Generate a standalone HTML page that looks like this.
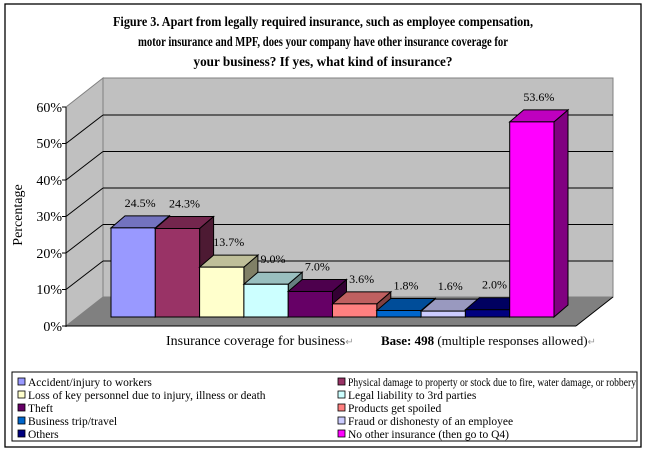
<!DOCTYPE html>
<html><head><meta charset="utf-8"><style>
body{margin:0;background:#fff;}
svg{display:block;font-family:"Liberation Serif",serif;}
</style></head><body>
<svg width="647" height="454" viewBox="0 0 647 454" xmlns="http://www.w3.org/2000/svg">
<rect x="5" y="4" width="636" height="443" fill="#fff" stroke="#000" stroke-width="1.3"/>
<g font-weight="bold" font-size="14" text-anchor="middle">
<text x="323" y="26" textLength="420" lengthAdjust="spacingAndGlyphs">Figure 3. Apart from legally required insurance, such as employee compensation,</text>
<text x="323" y="46" textLength="370" lengthAdjust="spacingAndGlyphs">motor insurance and MPF, does your company have other insurance coverage for</text>
<text x="323" y="66" textLength="259" lengthAdjust="spacingAndGlyphs">your business? If yes, what kind of insurance?</text>
</g>
<!-- walls -->
<polygon points="66,107 103,78 103,297 66,326" fill="#c0c0c0" stroke="#808080" stroke-width="1"/>
<rect x="103" y="78" width="510" height="219" fill="#c0c0c0" stroke="#808080" stroke-width="1"/>
<polygon points="66,326 103,297 613,297 576,326" fill="#808080"/>
<g stroke="#000" stroke-width="1">
<line x1="103" y1="115" x2="613" y2="115"/><line x1="103" y1="151.5" x2="613" y2="151.5"/>
<line x1="103" y1="188" x2="613" y2="188"/><line x1="103" y1="224.5" x2="613" y2="224.5"/>
<line x1="103" y1="261" x2="613" y2="261"/>
<line x1="66" y1="143.5" x2="103" y2="115"/><line x1="66" y1="180" x2="103" y2="151.5"/>
<line x1="66" y1="216.5" x2="103" y2="188"/><line x1="66" y1="253" x2="103" y2="224.5"/>
<line x1="66" y1="289.5" x2="103" y2="261"/>
<line x1="66" y1="107" x2="66" y2="327"/><line x1="66" y1="326" x2="576" y2="326"/>
<line x1="576" y1="326" x2="613" y2="297"/>
<line x1="62" y1="107" x2="66" y2="107"/><line x1="62" y1="143.5" x2="66" y2="143.5"/><line x1="62" y1="180" x2="66" y2="180"/><line x1="62" y1="216.5" x2="66" y2="216.5"/><line x1="62" y1="253" x2="66" y2="253"/><line x1="62" y1="289.5" x2="66" y2="289.5"/><line x1="62" y1="326" x2="66" y2="326"/>
</g>
<g font-size="14" text-anchor="end">
<text x="62" y="112">60%</text><text x="62" y="148">50%</text><text x="62" y="185">40%</text>
<text x="62" y="221">30%</text><text x="62" y="258">20%</text><text x="62" y="294">10%</text><text x="62" y="331">0%</text>
</g>
<text transform="translate(22,215) rotate(-90)" font-size="14" text-anchor="middle">Percentage</text>
<g id="bars" stroke="#000" stroke-width="1"></g>
<g id="lbl" font-size="12" text-anchor="middle"></g>
<text x="166" y="345" font-size="14">Insurance coverage for business<tspan fill="#999" font-size="10">↵</tspan></text>
<text x="381" y="345" font-size="13"><tspan font-weight="bold">Base: 498</tspan> (multiple responses allowed)<tspan fill="#999" font-size="10">↵</tspan></text>
<rect x="12" y="372" width="625" height="69" fill="#fff" stroke="#000" stroke-width="1"/>
<g font-size="11.5" stroke="none">
<g id="leg"></g>
</g>
<script>
var vals=[24.5,24.3,13.7,9.0,7.0,3.6,1.8,1.6,2.0,53.6];
var cols=[[153,153,255],[153,51,102],[255,255,204],[204,255,255],[102,0,102],[255,128,128],[0,102,204],[204,204,255],[0,0,128],[255,0,255]];
var names=["Accident/injury to workers","Physical damage to property or stock due to fire, water damage, or robbery","Loss of key personnel due to injury, illness or death","Legal liability to 3rd parties","Theft","Products get spoiled","Business trip/travel","Fraud or dishonesty of an employee","Others","No other insurance (then go to Q4)"];
function c(a,f){return "rgb("+Math.round(a[0]*f)+","+Math.round(a[1]*f)+","+Math.round(a[2]*f)+")";}
var g=document.getElementById("bars"),L=document.getElementById("lbl"),NS="http://www.w3.org/2000/svg";
function poly(p,fill,par){var e=document.createElementNS(NS,"polygon");e.setAttribute("points",p);e.setAttribute("fill",fill);par.appendChild(e);}
var w=44.3,dx=14,dy=12,base=317;
for(var i=0;i<10;i++){var x=111+i*w,h=vals[i]*3.64,t=base-h,x2=x+w;
poly(x2+","+t+" "+(x2+dx)+","+(t-dy)+" "+(x2+dx)+","+(base-dy)+" "+x2+","+base,c(cols[i],0.5),g);
poly(x+","+t+" "+(x+dx)+","+(t-dy)+" "+(x2+dx)+","+(t-dy)+" "+x2+","+t,c(cols[i],0.75),g);
poly(x+","+t+" "+x2+","+t+" "+x2+","+base+" "+x+","+base,c(cols[i],1),g);
var tx=document.createElementNS(NS,"text");tx.setAttribute("x",x+w/2+dx/2);tx.setAttribute("y",t-dy-9);tx.textContent=vals[i].toFixed(1)+"%";L.appendChild(tx);}
var lg=document.getElementById("leg");
for(var i=0;i<10;i++){var col=i%2,row=Math.floor(i/2),lx=col?338:18,ly=378+row*13;
var r=document.createElementNS(NS,"rect");r.setAttribute("x",lx);r.setAttribute("y",ly);r.setAttribute("width",7);r.setAttribute("height",7);r.setAttribute("fill",c(cols[i],1));r.setAttribute("stroke","#000");r.setAttribute("stroke-width","0.8");lg.appendChild(r);
var t=document.createElementNS(NS,"text");t.setAttribute("x",lx+10);t.setAttribute("y",ly+8);t.textContent=names[i];if(i==1){t.setAttribute("textLength","288");t.setAttribute("lengthAdjust","spacingAndGlyphs");}lg.appendChild(t);}
</script>
</svg>
</body></html>
